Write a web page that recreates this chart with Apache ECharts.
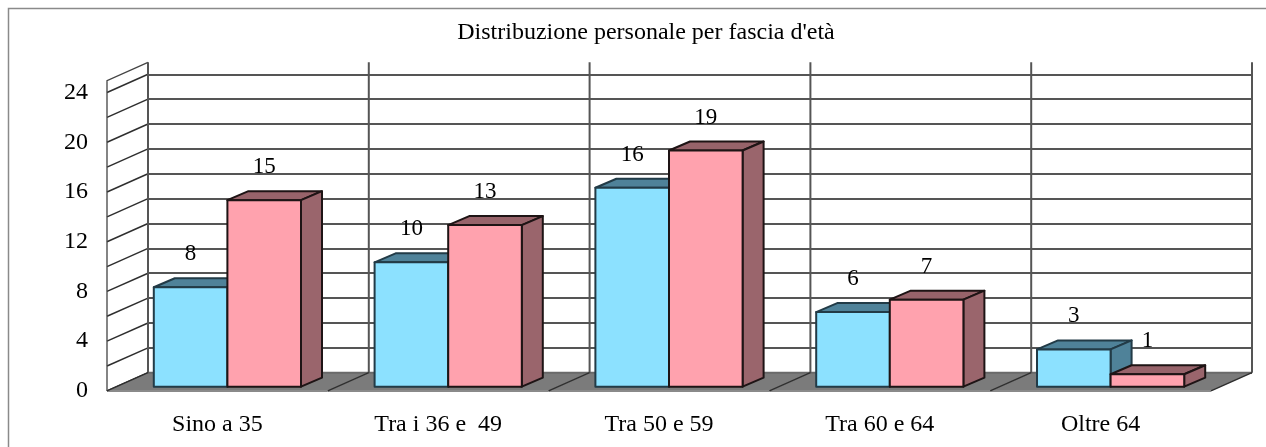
<!DOCTYPE html>
<html>
<head>
<meta charset="utf-8">
<style>html,body{margin:0;padding:0;background:#fff}#c{width:1266px;height:447px}</style>
<script src="https://cdn.jsdelivr.net/npm/echarts@6/dist/echarts.min.js"></script>
</head>
<body>
<div id="c"></div>
<script>
const chartTitle = "Distribuzione personale per fascia d'età";
const categories = ['Sino a 35', 'Tra i 36 e  49', 'Tra 50 e 59', 'Tra 60 e 64', 'Oltre 64'];
const seriesBlue = [8, 10, 16, 6, 3];
const seriesPink = [15, 13, 19, 7, 1];
const gridTicks = [0, 2, 4, 6, 8, 10, 12, 14, 16, 18, 20, 22, 24];
const wallTop = 24.96;

const serif = '"Liberation Serif", "Times New Roman", serif';
const WALL_DX = -41, WALL_DY = 18.2;
const BAR_DX = -31, BAR_DY = 14;
const TOP_DX = 21, TOP_DY = -9;
const LINE = '#555555', DARK = '#2e2e2e';

function floorBand(params, api) {
  const i = api.value(0);
  const c = api.coord([i, 0]);
  const band = api.size([1, 0])[0];
  const xl = c[0] - band / 2, xr = c[0] + band / 2, y = c[1];
  const up = api.coord([i, wallTop])[1];
  const children = [{
    type: 'polygon',
    shape: { points: [[xl, y], [xr, y], [xr + WALL_DX, y + WALL_DY], [xl + WALL_DX, y + WALL_DY]] },
    style: { fill: '#7b7b7b', stroke: null }
  }, {
    type: 'line',
    shape: { x1: xl + WALL_DX, y1: y + WALL_DY, x2: xr + WALL_DX, y2: y + WALL_DY },
    style: { stroke: '#8a8a8a', lineWidth: 2 }
  }, {
    type: 'line',
    shape: { x1: xl, y1: y, x2: xr, y2: y },
    style: { stroke: '#6a6a6a', lineWidth: 2 }
  }, {
    type: 'line',
    shape: { x1: xl, y1: up, x2: xl, y2: y },
    style: { stroke: LINE, lineWidth: 2 }
  }, {
    type: 'line',
    shape: { x1: xl, y1: y, x2: xl + WALL_DX, y2: y + WALL_DY },
    style: { stroke: DARK, lineWidth: 1.3 }
  }];
  if (i === categories.length - 1) {
    children.push({
      type: 'line',
      shape: { x1: xr, y1: up, x2: xr, y2: y },
      style: { stroke: LINE, lineWidth: 2 }
    }, {
      type: 'line',
      shape: { x1: xr, y1: y, x2: xr + WALL_DX, y2: y + WALL_DY },
      style: { stroke: DARK, lineWidth: 1.3 }
    });
  }
  return { type: 'group', children };
}

function wallLine(params, api) {
  const c = api.coord([0, api.value(0)]);
  const band = api.size([1, 0])[0];
  const x = c[0] - band / 2;
  return {
    type: 'line',
    shape: { x1: x, y1: c[1], x2: x + WALL_DX, y2: c[1] + WALL_DY },
    style: { stroke: DARK, lineWidth: 1.5 }
  };
}

function wallEdge(params, api) {
  const band = api.size([1, 0])[0];
  const t = api.coord([0, wallTop]), b = api.coord([0, 0]);
  const x = t[0] - band / 2;
  return {
    type: 'polyline',
    shape: { points: [[x, t[1]], [x + WALL_DX, t[1] + WALL_DY], [x + WALL_DX, b[1] + WALL_DY]] },
    style: { stroke: '#444', lineWidth: 1.3, fill: null }
  };
}

function barRenderer(side, front, top, lateral, edge) {
  return function (params, api) {
    const i = api.value(0), v = api.value(1);
    const band = api.size([1, 0])[0];
    const w = band / 3;
    const c = api.coord([i, v]), o = api.coord([i, 0]);
    const x0 = c[0] + BAR_DX + (side < 0 ? -w : 0), x1 = x0 + w;
    const yt = c[1] + BAR_DY, yb = o[1] + BAR_DY;
    const s = { stroke: edge, lineWidth: 2, lineJoin: 'round' };
    return {
      type: 'group',
      children: [{
        type: 'polygon',
        shape: { points: [[x0, yt], [x0 + TOP_DX, yt + TOP_DY], [x1 + TOP_DX, yt + TOP_DY], [x1, yt]] },
        style: Object.assign({ fill: top }, s)
      }, {
        type: 'polygon',
        shape: { points: [[x1, yt], [x1 + TOP_DX, yt + TOP_DY], [x1 + TOP_DX, yb + TOP_DY], [x1, yb]] },
        style: Object.assign({ fill: lateral }, s)
      }, {
        type: 'rect',
        shape: { x: x0, y: yt, width: w, height: yb - yt },
        style: Object.assign({ fill: front }, s)
      }, {
        type: 'text',
        style: {
          text: String(v), x: (x0 + x1) / 2, y: yt - 33,
          align: 'center', verticalAlign: 'middle',
          font: '23px ' + serif, fill: '#000'
        }
      }]
    };
  };
}

const chart = echarts.init(document.getElementById('c'), null, { renderer: 'canvas' });
chart.setOption({
  animation: false,
  backgroundColor: '#fff',
  title: {
    text: chartTitle, left: 641, top: 16, textAlign: 'center',
    textStyle: { fontFamily: serif, fontSize: 24, fontWeight: 'normal', color: '#000' }
  },
  graphic: [{
    type: 'polyline', silent: true,
    shape: { points: [[8.5, 447], [8.5, 8.5], [1266, 8.5]] },
    style: { stroke: '#8a8a8a', lineWidth: 1.5, fill: null }
  }],
  grid: [
    { left: 148, top: 74.3, width: 1104, height: 298.4 },
    { left: 107, top: 92.5, width: 1104, height: 298.4 }
  ],
  xAxis: [
    { type: 'category', gridIndex: 0, data: categories, axisLine: { show: false }, axisTick: { show: false }, axisLabel: { show: false } },
    { type: 'category', gridIndex: 1, data: categories, axisLine: { show: false }, axisTick: { show: false },
      axisLabel: { interval: 0, margin: 22, fontFamily: serif, fontSize: 24, color: '#000' } }
  ],
  yAxis: [
    { type: 'value', gridIndex: 0, min: 0, max: 24, interval: 2, axisLine: { show: false }, axisTick: { show: false }, axisLabel: { show: false },
      splitLine: { show: true, lineStyle: { color: LINE, width: 2 } } },
    { type: 'value', gridIndex: 1, min: 0, max: 24, interval: 4, axisLine: { show: false }, axisTick: { show: false },
      axisLabel: { margin: 19, fontFamily: serif, fontSize: 24, color: '#000' }, splitLine: { show: false } }
  ],
  series: [
    { type: 'custom', xAxisIndex: 0, yAxisIndex: 0, data: gridTicks.map(t => [t]), renderItem: wallLine, silent: true },
    { type: 'custom', xAxisIndex: 0, yAxisIndex: 0, data: [[0]], renderItem: wallEdge, silent: true },
    { type: 'custom', xAxisIndex: 0, yAxisIndex: 0, data: categories.map((c, i) => [i]), renderItem: floorBand, silent: true },
    { type: 'custom', name: 'Blu', xAxisIndex: 0, yAxisIndex: 0, encode: { x: 0, y: 1 },
      data: seriesBlue.map((v, i) => [i, v]),
      renderItem: barRenderer(-1, '#8ce1ff', '#4f8299', '#4f8299', '#223b47') },
    { type: 'custom', name: 'Rosa', xAxisIndex: 0, yAxisIndex: 0, encode: { x: 0, y: 1 },
      data: seriesPink.map((v, i) => [i, v]),
      renderItem: barRenderer(1, '#ffa2ae', '#97636a', '#9a656c', '#1e1415') }
  ]
});
</script>
</body>
</html>
